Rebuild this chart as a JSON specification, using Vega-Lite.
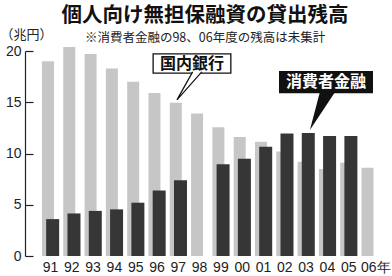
{
  "$schema": "https://vega.github.io/schema/vega-lite/v6.json",
  "autosize": {"type": "none"},
  "width": 360,
  "height": 205,
  "padding": {"left": 25, "top": 51, "right": 7, "bottom": 20},
  "background": "white",
  "config": {"view": {"stroke": null}},
  "title": {
    "text": "個人向け無担保融資の貸出残高",
    "subtitle": "　※消費者金融の98、06年度の残高は未集計",
    "anchor": "middle",
    "frame": "group",
    "font": "Noto Sans CJK JP",
    "fontSize": 20.5,
    "fontWeight": "bold",
    "color": "#111",
    "subtitleFont": "Noto Sans CJK JP",
    "subtitleFontSize": 12.5,
    "subtitleColor": "#222",
    "subtitlePadding": 5,
    "offset": -16
  },
  "data": {"name": "main", "values": [
    {"year": "91", "bank": 19.0, "consumer": 3.6},
    {"year": "92", "bank": 20.4, "consumer": 4.15},
    {"year": "93", "bank": 19.7, "consumer": 4.4},
    {"year": "94", "bank": 18.3, "consumer": 4.55},
    {"year": "95", "bank": 17.0, "consumer": 5.2},
    {"year": "96", "bank": 15.9, "consumer": 6.4},
    {"year": "97", "bank": 14.95, "consumer": 7.4},
    {"year": "98", "bank": 13.9, "consumer": null},
    {"year": "99", "bank": 12.55, "consumer": 8.95},
    {"year": "00", "bank": 11.6, "consumer": 9.5},
    {"year": "01", "bank": 11.15, "consumer": 10.65},
    {"year": "02", "bank": 10.2, "consumer": 11.95},
    {"year": "03", "bank": 9.2, "consumer": 12.0},
    {"year": "04", "bank": 8.5, "consumer": 11.7},
    {"year": "05", "bank": 9.1, "consumer": 11.7},
    {"year": "06", "bank": 8.6, "consumer": null}
  ]},
  "encoding": {
    "x": {
      "field": "year",
      "type": "nominal",
      "scale": {
        "domain": ["91","92","93","94","95","96","97","98","99","00","01","02","03","04","05","06"],
        "paddingInner": 0,
        "paddingOuter": 0.45,
        "align": 0.773
      },
      "axis": {
        "title": null,
        "domain": false,
        "ticks": false,
        "labelAngle": 0,
        "labelFont": "Liberation Sans",
        "labelFontSize": 14,
        "labelColor": "#222",
        "labelPadding": 4,
        "labelExpr": "datum.value == '06' ? '06年' : datum.label",
        "labelAlign": {"condition": {"test": "datum.value == '06'", "value": "left"}, "value": "center"},
        "labelOffset": {"condition": {"test": "datum.value == '06'", "value": -9}, "value": 0}
      }
    }
  },
  "layer": [
    {
      "mark": {"type": "bar", "width": 12, "xOffset": -2.5, "color": "#c6c6c6"},
      "encoding": {
        "y": {
          "field": "bank",
          "type": "quantitative",
          "scale": {"domain": [0, 20], "nice": false},
          "axis": {
            "title": "（兆円）",
            "titleAngle": 0,
            "titleAlign": "left",
            "titleBaseline": "bottom",
            "titleX": -25,
            "titleY": -10,
            "titleFont": "Noto Sans CJK JP",
            "titleFontSize": 13,
            "titleFontWeight": "normal",
            "titleColor": "#222",
            "values": [0, 5, 10, 15, 20],
            "grid": false,
            "domainColor": "#222",
            "domainWidth": 1.2,
            "tickColor": "#222",
            "tickWidth": 1.2,
            "tickSize": -8,
            "labelFont": "Liberation Sans",
            "labelFontSize": 14,
            "labelColor": "#222",
            "labelPadding": 12
          }
        }
      }
    },
    {
      "mark": {"type": "bar", "width": 13, "xOffset": 2.2, "color": "#363636"},
      "encoding": {
        "y": {"field": "consumer", "type": "quantitative"}
      }
    },
    {
      "data": {"name": "box1", "values": [{"year": "98", "top": 19.71, "bottom": 17.85}]},
      "mark": {"type": "bar", "width": 77.7, "xOffset": -7.6, "fill": "white", "stroke": "#111", "strokeWidth": 1.3},
      "encoding": {
        "y": {"field": "top", "type": "quantitative"},
        "y2": {"field": "bottom"}
      }
    },
    {
      "data": {"name": "tail1", "values": [{"year": "97", "top": 16.54}]},
      "mark": {"type": "point", "shape": "M0.24,-1.04 L-0.88,0.96 L0.89,-1.04", "size": 784, "xOffset": 11, "filled": true, "fill": "white", "stroke": "#111", "strokeWidth": 1.2, "opacity": 1},
      "encoding": {"y": {"field": "top", "type": "quantitative"}}
    },
    {
      "data": {"name": "text1", "values": [{"year": "98", "top": 18.78, "label": "国内銀行"}]},
      "mark": {"type": "text", "xOffset": -7.6, "baseline": "middle", "align": "center", "font": "Noto Sans CJK JP", "fontSize": 16, "fontWeight": "bold", "color": "#111"},
      "encoding": {"y": {"field": "top", "type": "quantitative"}, "text": {"field": "label"}}
    },
    {
      "data": {"name": "box2", "values": [{"year": "04", "top": 18.05, "bottom": 15.88}]},
      "mark": {"type": "bar", "width": 94, "xOffset": -1.4, "fill": "#111"},
      "encoding": {
        "y": {"field": "top", "type": "quantitative"},
        "y2": {"field": "bottom"}
      }
    },
    {
      "data": {"name": "tail2", "values": [{"year": "03", "top": 14.1}]},
      "mark": {"type": "point", "shape": "M-0.14,-1.05 L-0.68,1 L0.68,-1.05 Z", "size": 1369, "xOffset": 16.4, "filled": true, "fill": "#111", "opacity": 1},
      "encoding": {"y": {"field": "top", "type": "quantitative"}}
    },
    {
      "data": {"name": "text2", "values": [{"year": "04", "top": 16.97, "label": "消費者金融"}]},
      "mark": {"type": "text", "xOffset": -1.4, "baseline": "middle", "align": "center", "font": "Noto Sans CJK JP", "fontSize": 16, "fontWeight": "bold", "color": "white"},
      "encoding": {"y": {"field": "top", "type": "quantitative"}, "text": {"field": "label"}}
    }
  ]
}
